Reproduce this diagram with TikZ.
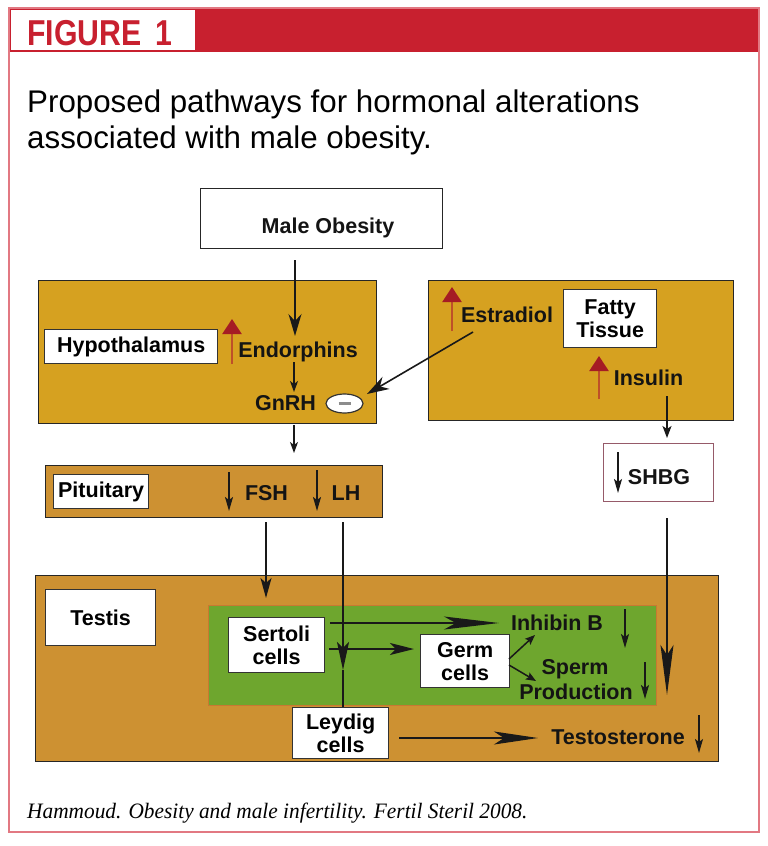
\documentclass[tikz,border=0pt]{standalone}
\usepackage{fontspec}
\setmainfont{Liberation Sans}
\newfontfamily\capfont{Liberation Serif}
\usetikzlibrary{arrows.meta,shapes.geometric,calc}
\definecolor{figred}{RGB}{200,32,47}
\definecolor{framered}{RGB}{226,120,130}
\definecolor{gold}{RGB}{214,161,32}
\definecolor{ochre}{RGB}{205,145,50}
\definecolor{leaf}{RGB}{110,166,46}
\definecolor{leafedge}{RGB}{200,120,50}
\definecolor{upshaft}{RGB}{190,80,40}
\definecolor{uphead}{RGB}{165,28,36}
\definecolor{shbgedge}{RGB}{150,90,105}
\newcommand\lblfont{\fontsize{21.5}{23}\selectfont\bfseries}
\begin{document}
\begin{tikzpicture}[x=1pt,y=-1pt,
  panel/.style={draw=black!85, line width=1.3pt, anchor=north west, inner sep=0pt},
  wbox/.style={draw=black!80, line width=1.3pt, fill=white, anchor=north west, inner sep=0pt, align=center, font=\lblfont},
  lbl/.style={inner sep=0pt, anchor=base, font=\lblfont, text=black!92},
  conn/.style={line width=1.6pt, draw=black!90},
  downsym/.style={line width=1.6pt, draw=black!90, -{Stealth[length=14pt,width=8pt,inset=3pt]}},
  upsym/.style={line width=2.4pt, draw=upshaft, -{Triangle[length=15pt,width=19pt,color=uphead]}},
]
\useasboundingbox (0,0) rectangle (768,846);
% frame and header
\fill[white] (0,0) rectangle (768,846);
\fill[figred] (9,8) rectangle (759,52);
\fill[white] (11,10) rectangle (195,50);
\draw[framered, line width=1.5pt] (9,8) rectangle (759,832);
\node[anchor=base west, inner sep=0pt, text=figred, font=\fontsize{36}{40}\selectfont\bfseries] (fig) at (27,45) {\scalebox{0.84}[1]{FIGURE\hspace{0.45em}1}};
\node[anchor=base west, inner sep=0pt, font=\fontsize{31.3}{36}\selectfont] (title1) at (27,112) {Proposed pathways for hormonal alterations};
\node[anchor=base west, inner sep=0pt, font=\fontsize{31.3}{36}\selectfont] (title2) at (27,148) {associated with male obesity.};

% panels
\node[panel, fill=white, minimum width=242pt, minimum height=60pt] (mo) at (200,188) {};
\node[panel, fill=gold, minimum width=338pt, minimum height=143pt] (hyp) at (38,280) {};
\node[panel, fill=gold, minimum width=305pt, minimum height=140pt] (fat) at (428,280) {};
\node[panel, fill=ochre, minimum width=337pt, minimum height=52pt] (pit) at (45,465) {};
\node[panel, draw=shbgedge, fill=white, minimum width=110pt, minimum height=58pt] (shbg) at (603,443) {};
\node[panel, fill=ochre, minimum width=683pt, minimum height=186pt] (testis) at (35,575) {};
\node[panel, draw=leafedge, line width=1pt, fill=leaf, minimum width=448pt, minimum height=100pt] (green) at (208,605) {};

% label boxes
\node[wbox, minimum width=173pt, minimum height=34pt] (hypl) at (44,329) {Hypothalamus};
\node[wbox, minimum width=93pt, minimum height=58pt] (fatl) at (563,289) {Fatty\\Tissue};
\node[wbox, minimum width=95pt, minimum height=34pt] (pitl) at (53,474) {Pituitary};
\node[wbox, minimum width=110pt, minimum height=56pt] (tesl) at (45,589) {Testis};
\node[wbox, minimum width=96pt, minimum height=55pt] (sert) at (228,617) {Sertoli\\cells};
\node[wbox, minimum width=89pt, minimum height=53pt] (germ) at (420,634) {Germ\\cells};

% texts
\node[lbl] (motext) at (328,233) {Male Obesity};
\node[lbl] (endo) at (298,357) {Endorphins};
\node[lbl] (gnrh) at (285.5,410) {GnRH};
\node[lbl] (estr) at (507,322) {Estradiol};
\node[lbl] (insu) at (648.5,385) {Insulin};
\node[lbl] (shbgt) at (659,484) {SHBG};
\node[lbl] (fsh) at (266.5,500) {FSH};
\node[lbl] (lh) at (346,500) {LH};
\node[lbl] (inhib) at (557,630) {Inhibin B};
\node[lbl] (sperm) at (575,674) {Sperm};
\node[lbl] (prod) at (576,699) {Production};
\node[lbl] (testo) at (618,744) {Testosterone};

% negative ellipse
\node[draw=black!80, line width=1.2pt, fill=white, ellipse, minimum width=37pt, minimum height=19pt, inner sep=0pt] (neg) at (344.5,403.5) {\textcolor{black!45}{\rule{12pt}{2.2pt}}};

% connector end points
\coordinate (moA) at (295,260); \coordinate (moB) at (295,336);
\coordinate (enA) at (294,362); \coordinate (enB) at (294,392);
\coordinate (gnA) at (294,425); \coordinate (gnB) at (294,453);
\coordinate (esA) at (473,332); \coordinate (esB) at (367,394);
\coordinate (inA) at (667,396); \coordinate (inB) at (667,438);
\coordinate (fsA) at (266,522); \coordinate (fsB) at (266,598);
\coordinate (lhA) at (343,522); \coordinate (lhM) at (343,670);
\coordinate (shA) at (667,518); \coordinate (shB) at (667,695);
\coordinate (siA) at (330,623); \coordinate (siB) at (499,623);
\coordinate (sgA) at (329,649); \coordinate (sgB) at (414,649);
\coordinate (giA) at (509,659); \coordinate (giB) at (535,635);
\coordinate (gsA) at (509,665); \coordinate (gsB) at (536,681);
\coordinate (ltA) at (399,738); \coordinate (ltB) at (538,738);

% connectors
\draw[conn, line width=1.5pt, -{Stealth[length=22pt,width=13pt,inset=7pt]}] (moA) -- (moB);
\draw[conn, line width=1.2pt, -{Stealth[length=11pt,width=8pt,inset=3pt]}] (enA) -- (enB);
\draw[conn, line width=1.2pt, -{Stealth[length=11pt,width=8pt,inset=3pt]}] (gnA) -- (gnB);
\draw[conn, -{Stealth[length=22pt,width=14pt,inset=7pt]}] (esA) -- (esB);
\draw[conn, line width=1.4pt, -{Stealth[length=12pt,width=9pt,inset=3pt]}] (inA) -- (inB);
\draw[conn, -{Stealth[length=20pt,width=11pt,inset=5pt]}] (fsA) -- (fsB);
\draw[conn, -{Stealth[length=50pt,width=13pt,inset=10pt]}] (shA) -- (shB);
\draw[conn, line width=1.8pt, -{Stealth[length=55pt,width=13pt,inset=12pt]}] (siA) -- (siB);
\draw[conn, line width=1.8pt, -{Stealth[length=24pt,width=12pt,inset=6pt]}] (sgA) -- (sgB);
\draw[conn, line width=1.5pt, -{Stealth[length=10pt,width=8pt,inset=2pt]}] (giA) -- (giB);
\draw[conn, line width=1.5pt, -{Stealth[length=10pt,width=8pt,inset=2pt]}] (gsA) -- (gsB);
\draw[conn, line width=1.8pt, -{Stealth[length=44pt,width=13pt,inset=10pt]}] (ltA) -- (ltB);

% Leydig box and LH line
\node[wbox, minimum width=96pt, minimum height=51pt] (leyd) at (292,707) {Leydig\\cells};
\draw[conn, -{Stealth[length=28pt,width=12pt,inset=6pt]}] (lhA) -- (lhM);
\draw[conn] (lhM) -- (lhA |- leyd.north);

% down symbols
\draw[downsym] (229,472) -- (229,511);
\draw[downsym] (317,470) -- (317,511);
\draw[downsym] (618,452) -- (618,493);
\draw[downsym] (625,609) -- (625,648);
\draw[downsym] (645,662) -- (645,699);
\draw[downsym] (699,715) -- (699,753);

% up symbols
\draw[upsym] (232,364) -- (232,319);
\draw[upsym] (452,331) -- (452,287);
\draw[upsym] (599,399) -- (599,356);

% caption
\node[anchor=base west, inner sep=0pt, font=\capfont\itshape\fontsize{22}{26}\selectfont] (cap) at (27,818) {\scalebox{0.97}[1]{Hammoud. Obesity and male infertility. Fertil Steril 2008.}};
\end{tikzpicture}
\end{document}
